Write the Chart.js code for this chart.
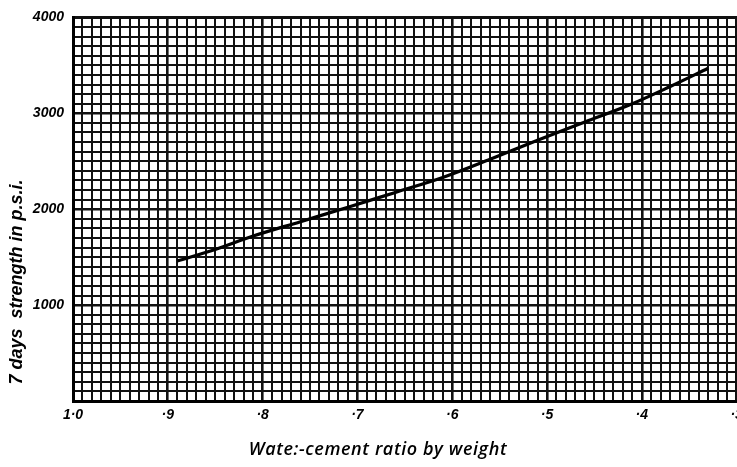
<!DOCTYPE html>
<html>
<head>
<meta charset="utf-8">
<script src="https://cdn.jsdelivr.net/npm/chart.js@4/dist/chart.umd.min.js"></script>
<style>
  html, body { margin: 0; padding: 0; background: #fff; overflow: hidden; width: 737px; height: 467px; }
  #wrap { position: absolute; left: 0; top: 0; width: 790px; height: 467px; }
</style>
</head>
<body>
<div id="wrap"><canvas id="c" width="790" height="467"></canvas></div>
<script>
// Water-cement ratio (x) and 7-day strength in p.s.i. (y)
const waterCementRatio = [0.89, 0.85, 0.81, 0.76, 0.71, 0.66, 0.61, 0.56, 0.51, 0.46, 0.41, 0.37, 0.33];
const strengthPsi      = [1460, 1580, 1720, 1870, 2020, 2175, 2330, 2520, 2720, 2910, 3100, 3280, 3470];

const xTickValues = [1.0, 0.9, 0.8, 0.7, 0.6, 0.5, 0.4, 0.3];
const xTickLabels = ['1·0', '·9', '·8', '·7', '·6', '·5', '·4', '·3'];
const yTickValues = [1000, 2000, 3000, 4000];
const yTickLabels = ['1000', '2000', '3000', '4000'];

const xTitle = 'Wate:-cement ratio by weight';
const yTitle = '7 days  strength in p.s.i.';

function labelFor(v, values, labels, eps) {
  for (let i = 0; i < values.length; i++) {
    if (Math.abs(v - values[i]) < eps) return labels[i];
  }
  return '';
}
function isMultiple(v, step) {
  const r = v / step;
  return Math.abs(r - Math.round(r)) < 1e-6;
}

const tickFont = { family: '"Liberation Sans", Arial, sans-serif', size: 14, style: 'italic', weight: 'bold' };

const titlePlugin = {
  id: 'titles',
  afterDraw(chart) {
    const c = chart.ctx;
    c.save();
    c.fillStyle = '#000';
    c.textAlign = 'center';
    c.textBaseline = 'middle';
    c.font = 'italic 600 18px "Open Sans", "Liberation Sans", sans-serif';
    if ('letterSpacing' in c) c.letterSpacing = '0.6px';
    c.fillText(xTitle, 378, 450);
    if ('letterSpacing' in c) c.letterSpacing = '0px';
    c.translate(17, 282);
    c.rotate(-Math.PI / 2);
    c.font = 'italic bold 18px "Liberation Sans", sans-serif';
    c.fillText(yTitle, 0, 0);
    c.restore();
  }
};

new Chart(document.getElementById('c'), {
  type: 'line',
  data: {
    datasets: [{
      data: waterCementRatio.map((x, i) => ({ x: x, y: strengthPsi[i] })),
      borderColor: '#000',
      borderWidth: 3.2,
      pointRadius: 0,
      cubicInterpolationMode: 'monotone',
      fill: false
    }]
  },
  options: {
    responsive: false,
    animation: false,
    layout: { padding: { top: 17, left: 0, right: 0, bottom: 0 } },
    plugins: { legend: { display: false }, tooltip: { enabled: false } },
    scales: {
      x: {
        type: 'linear',
        reverse: true,
        min: 0.25,
        max: 1.0,
        afterFit(scale) { scale.height = 66; },
        border: { display: true, color: '#000', width: 3 },
        grid: {
          drawTicks: false,
          color: '#111',
          lineWidth: ctx => (ctx.tick && isMultiple(ctx.tick.value, 0.1)) ? 2.6 : 2
        },
        ticks: {
          stepSize: 0.01,
          autoSkip: false,
          maxRotation: 0,
          minRotation: 0,
          padding: 6,
          color: '#000',
          font: tickFont,
          callback: v => labelFor(v, xTickValues, xTickLabels, 1e-6)
        }
      },
      y: {
        type: 'linear',
        min: 0,
        max: 4000,
        afterFit(scale) { scale.width = 73; },
        border: { display: true, color: '#000', width: 3 },
        grid: {
          drawTicks: false,
          color: '#111',
          lineWidth: ctx => {
            if (!ctx.tick) return 2;
            if (ctx.tick.value === 4000) return 3;
            return isMultiple(ctx.tick.value, 1000) ? 2.6 : 2;
          }
        },
        ticks: {
          stepSize: 100,
          autoSkip: false,
          padding: 9,
          color: '#000',
          font: tickFont,
          callback: v => labelFor(v, yTickValues, yTickLabels, 1e-6)
        }
      }
    }
  },
  plugins: [titlePlugin]
});
</script>
</body>
</html>
